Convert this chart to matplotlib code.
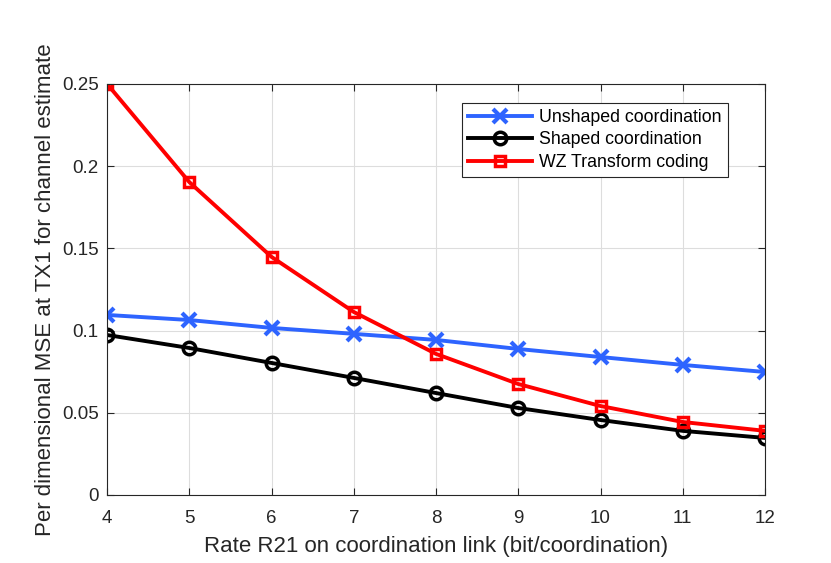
import matplotlib
matplotlib.use('Agg')
import matplotlib.pyplot as plt

plt.rcParams['font.family'] = ['Liberation Sans', 'DejaVu Sans']

rate = [4, 5, 6, 7, 8, 9, 10, 11, 12]
unshaped = [0.1095, 0.1064, 0.1016, 0.0980, 0.0943, 0.0888, 0.0839, 0.0791, 0.0748]
shaped = [0.0973, 0.0894, 0.0803, 0.0712, 0.0620, 0.0529, 0.0456, 0.0390, 0.0347]
wz = [0.2500, 0.1903, 0.1448, 0.1113, 0.0858, 0.0675, 0.0541, 0.0444, 0.0390]

fig = plt.figure(figsize=(8.31, 5.63), dpi=100)
ax = fig.add_axes([0.1288, 0.1208, 0.7918, 0.7302])

ax.plot(rate, unshaped, color='#2E64FF', lw=2.8, marker='x', ms=10, mew=3,
        label='Unshaped coordination')
ax.plot(rate, shaped, color='black', lw=2.8, marker='o', ms=9, mew=2.5,
        mfc='none', label='Shaped coordination')
ax.plot(rate, wz, color='#FF0000', lw=2.8, marker='s', ms=7.5, mew=2.5,
        mfc='none', label='WZ Transform coding')

ax.set_xlim(4, 12)
ax.set_ylim(0, 0.25)
ax.set_xticks(rate)
ax.set_yticks([0, 0.05, 0.1, 0.15, 0.2, 0.25])
ax.set_yticklabels(['0', '0.05', '0.1', '0.15', '0.2', '0.25'])
ax.grid(True, color='#DDDDDD', lw=0.8)
ax.set_axisbelow(True)
ax.tick_params(direction='in', labelsize=13.5, colors='#262626', top=True, right=True, length=5)
ax.tick_params(axis='x', pad=11)
ax.tick_params(axis='y', pad=6)
for s in ax.spines.values():
    s.set_color('#262626')
    s.set_linewidth(0.8)

ax.set_xlabel('Rate R21 on coordination link (bit/coordination)', fontsize=16, color='#262626', labelpad=6)
ax.set_ylabel('Per dimensional MSE at TX1 for channel estimate', fontsize=16, color='#262626', labelpad=4)

leg = ax.legend(loc='upper right', bbox_to_anchor=(0.9438, 0.9538), fontsize=12.8,
                fancybox=False, framealpha=1, edgecolor='#262626',
                handlelength=3.6, borderpad=0.35, labelspacing=0.3, handletextpad=0.4,
                borderaxespad=0)
leg.get_frame().set_linewidth(0.8)

fig.savefig('out.png', dpi=100)
